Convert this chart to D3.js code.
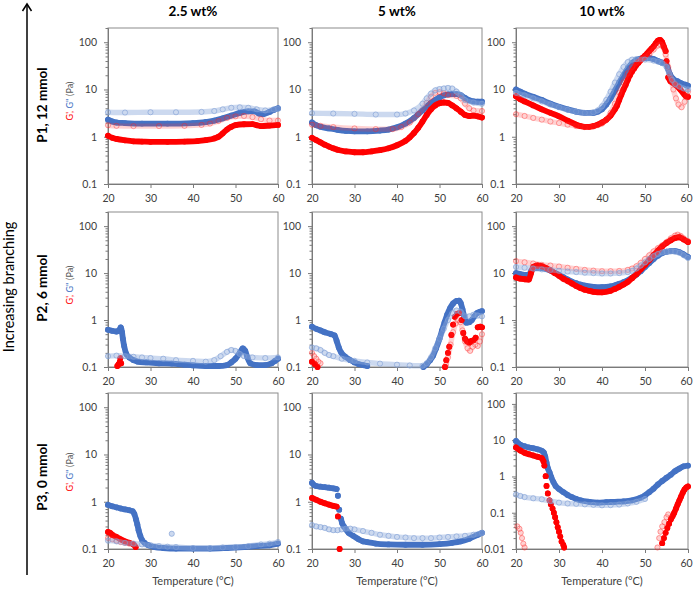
<!DOCTYPE html>
<html><head><meta charset="utf-8">
<script src="https://cdn.jsdelivr.net/npm/d3@7"></script>
<style>body{margin:0;background:#fff}text{font-family:Lato,"Open Sans",sans-serif}</style>
</head><body><svg id="c" width="693" height="589"></svg>
<script>
// ---------- categories / ticks ----------
const concentrations = ["2.5 wt%", "5 wt%", "10 wt%"];
const polymers = ["P1, 12 mmol", "P2, 6 mmol", "P3, 0 mmol"];
const temperatureTicks = [20, 30, 40, 50, 60];
const yTicksStd = [0.1, 1, 10, 100];
const yTicksWide = [0.01, 0.1, 1, 10, 100];
const xLabel = "Temperature (°C)";
const sideLabel = "Increasing branching";

// ---------- data: [temperature °C, modulus Pa]; null = gap ----------
// Row 1: P1, 12 mmol
const r1c1_Gp = [[20,1.05],[21,0.95],[22,0.9],[24,0.84],[26,0.8],[28,0.79],[30,0.78],[34,0.78],[38,0.79],[41,0.81],[43,0.85],[45,0.92],[46,1.0],[47,1.18],[48,1.42],[49,1.62],[50,1.76],[52,1.84],[54,1.85],[55,1.75],[56,1.68],[58,1.72],[60,1.78]];
const r1c1_Gpp = [[20,2.3],[21,2.1],[22,2.0],[24,1.95],[28,1.9],[34,1.9],[40,1.95],[43,2.05],[45,2.2],[47,2.45],[49,2.8],[51,3.2],[53,3.45],[54.5,3.45],[55.5,3.1],[56.5,3.0],[58,3.35],[59,3.7],[60,4.0]];
const r1c1_GpOpen = [[20,1.75],[22,1.7],[26,1.68],[32,1.68],[38,1.7],[42,1.78],[44,1.9],[46,2.15],[48,2.5],[50,2.7],[52,2.75],[54,2.6],[56,2.35],[58,2.2],[60,2.2]];
const r1c1_GppOpen = [[20,3.3],[24,3.25],[30,3.3],[36,3.3],[42,3.35],[45,3.5],[47,3.8],[49,4.1],[51,4.2],[53,4.1],[55,3.8],[57,3.6],[59,3.8],[60,3.9]];

const r1c2_Gp = [[20,0.95],[21,0.85],[22,0.76],[23,0.68],[24,0.62],[25,0.57],[26,0.53],[28,0.49],[30,0.47],[32,0.47],[34,0.49],[36,0.52],[38,0.57],[40,0.66],[42,0.82],[43,0.97],[44,1.2],[45,1.55],[46,2.1],[47,2.9],[48,3.8],[49,4.6],[50,5.1],[51,5.3],[52,5.2],[53,4.6],[54,4.0],[55,3.4],[56,2.9],[57,2.75],[58,2.8],[59,2.7],[60,2.55]];
const r1c2_Gpp = [[20,2.0],[21,1.75],[22,1.62],[24,1.5],[26,1.4],[28,1.33],[30,1.3],[33,1.3],[36,1.35],[38,1.42],[40,1.58],[42,1.9],[44,2.5],[46,3.6],[48,5.2],[50,6.8],[51,7.5],[52,7.9],[53,8.0],[54,8.0],[55,7.6],[56,6.6],[57,5.9],[58,5.6],[59,5.5],[60,5.5]];
const r1c2_GpOpen = [[20,1.8],[22,1.7],[25,1.6],[30,1.5],[35,1.45],[39,1.45],[41,1.6],[43,2.0],[45,3.0],[47,5.2],[48,7.0],[49,8.5],[50,8.8],[51,8.3],[52,7.6],[54,7.3],[55,6.5],[56,5.0],[57,4.0],[58,3.6],[60,3.5]];
const r1c2_GppOpen = [[20,3.15],[25,3.1],[30,3.05],[35,2.95],[40,2.95],[42,3.1],[44,3.6],[46,5.0],[47,6.5],[48,8.2],[49,9.6],[50,10.2],[51,10.5],[52,10.8],[53,10.5],[54,9.0],[55,7.5],[56,6.0],[58,5.3],[60,5.0]];

const r1c3_Gp = [[20,7.2],[21,6.2],[22,5.6],[24,4.6],[26,3.8],[28,3.2],[30,2.7],[32,2.2],[34,1.8],[35,1.68],[36,1.62],[37,1.62],[38,1.68],[39,1.8],[40,2.0],[41,2.3],[42,2.8],[43,3.8],[43.5,4.6],[44,6.0],[44.5,7.8],[45,10],[45.5,12.5],[46,16],[46.5,20],[47,24],[47.5,28],[48,33],[48.5,37],[49,42],[49.5,47],[50,52],[50.5,58],[51,65],[51.5,73],[52,82],[52.5,95],[53,108],[53.5,112],[54,100],[54.4,80],[54.8,65],null,[55.0,40],null,[55.4,18],[55.9,15],[57,12.8],[58.2,10],[59.5,7.2],[60,7]];
const r1c3_Gpp = [[20,10],[21,9],[22,8.2],[24,7],[26,6],[28,5],[30,4.3],[32,3.8],[34,3.4],[36,3.2],[38,3.2],[39,3.4],[40,3.8],[41,4.8],[42,6.5],[43,9.5],[44,14],[45,20],[46,28],[47,36],[48,42],[49,45],[50,46],[51,46],[52,44],[53,40],[54,37],[54.8,36],[55.3,28],[55.8,21],[56.5,17],[57.5,15],[58.5,13.5],[59.5,12.5],[60,12]];
const r1c3_GpOpen = [[20,3.0],[22,2.75],[24,2.5],[26,2.3],[28,2.1],[30,1.95],[32,1.8],[34,1.68],[36,1.6],[38,1.65],[40,1.9],[41,2.3],[42,3.2],[43,5],[44,8.5],[45,14],[46,22],[47,30],[48,37],[49,42],[50,48],[51,56],[52,70],[53,85],[53.6,90],[54.2,80],[54.8,55],[55.4,30],[56,17],[56.6,10],[57.2,6.5],[57.8,4.8],[58.5,4.2],[59.2,5.5],[60,9]];
const r1c3_GppOpen = [[20,8.5],[22,7.5],[24,6.5],[26,5.6],[28,4.8],[30,4.2],[32,3.7],[34,3.4],[36,3.2],[38,3.3],[39,3.6],[40,4.4],[41,6],[42,9],[43,14],[44,21],[45,30],[46,38],[47,43],[48,44],[50,43],[52,41],[53,39],[54,36],[55,30],[55.6,22],[56.3,16],[57,13],[58,11.5],[59,10.5],[60,10]];

// Row 2: P2, 6 mmol
const r2c1_Gp = [[22.2,0.105],null,[22.5,0.115],null,[22.8,0.13],null,[22.9,0.155],null,[23.1,0.12]];
const r2c1_Gpp = [[20,0.62],[21,0.59],[22,0.57],[22.6,0.6],[23,0.7],[23.3,0.55],[23.5,0.4],[23.8,0.28],[24.3,0.19],[25,0.16],[26,0.14],[27,0.13],[29,0.125],[32,0.12],[35,0.118],[38,0.112],[40,0.108],[43,0.105],[46,0.105],[48,0.11],[49,0.125],[50,0.15],[51,0.2],[51.7,0.25],[52.3,0.22],[52.8,0.16],[53.5,0.12],[55,0.11],[57,0.11],[58.5,0.12],[59.3,0.135],[60,0.15]];
const r2c1_GpOpen = [];
const r2c1_GppOpen = [[20,0.17],[22,0.175],[24,0.17],[26,0.165],[28,0.16],[30,0.155],[33,0.15],[36,0.14],[40,0.135],[43,0.13],[45,0.14],[46.5,0.17],[48,0.21],[49,0.23],[50,0.22],[51,0.19],[52,0.17],[54,0.16],[57,0.155],[60,0.16]];

const r2c2_Gp = [[20,0.13],null,[20.7,0.115],null,[21.3,0.1],null,[51.3,0.1],null,[51.6,0.14],null,[52,0.2],null,[52.3,0.27],null,[52.8,0.48],null,[53.2,0.8],null,[53.6,1.17],null,[54.1,1.35],[54.6,1.4],null,[55.2,1.0],null,[55.6,0.53],null,[56,0.4],[56.5,0.35],[57,0.33],[57.5,0.36],[58,0.37],[58.5,0.42],null,[59,0.7],[59.6,0.72],[60,0.7]];
const r2c2_Gpp = [[20,0.72],[21,0.65],[22,0.6],[23,0.55],[24.5,0.5],[25.3,0.47],[25.8,0.36],[26.3,0.26],[26.9,0.2],[27.8,0.166],[29,0.14],[30,0.125],[31,0.115],[32,0.11],[33,0.105],null,[46.2,0.1],[47,0.115],[47.8,0.14],[48.5,0.175],[49.2,0.25],[50,0.4],[50.6,0.6],[51.2,0.9],[51.8,1.3],[52.5,1.8],[53.2,2.25],[54,2.55],[54.6,2.6],[55,2.3],[55.4,1.7],[55.8,1.2],[56.3,0.88],[57,0.9],[57.6,1.0],[58.2,1.2],[58.8,1.4],[59.5,1.5],[60,1.55]];
const r2c2_GpOpen = [[20,0.2],[20.5,0.17],[21,0.15],[21.5,0.13],[22,0.12],null,[51.5,0.11],[52,0.16],[52.6,0.3],[53.2,0.55],[53.8,0.85],[54.3,1.0],[54.9,0.9],[55.4,0.6],[56,0.35],[56.6,0.25],[57.2,0.22],[57.8,0.27],[58.4,0.3],[59,0.28],[59.5,0.35],[60,0.5]];
const r2c2_GppOpen = [[20,0.26],[21,0.25],[22,0.23],[23,0.2],[24,0.18],[25,0.17],[27,0.15],[30,0.135],[33,0.125],[36,0.118],[40,0.112],[43,0.108],[46,0.106],[47,0.12],[48,0.16],[49,0.25],[50,0.4],[51,0.65],[52,1.0],[53,1.4],[54,1.6],[55,1.5],[56,1.2],[57,1.2],[58,1.3],[59,1.25],[60,1.2]];

const r2c3_Gp = [[20,8.1],[21,7.6],[22,7.4],[23,7.3],[23.5,10],[24,13.5],[25,14.5],[26,14],[27,12.8],[28,11.5],[29,10],[30,8.8],[31,7.6],[32,6.8],[33,6],[34,5.3],[35,4.8],[36,4.4],[37,4.2],[38,4.0],[40,3.9],[42,4.2],[43,4.6],[44,5.1],[45,5.7],[46,6.5],[47,7.8],[48,9.5],[49,12],[50,15],[51,19],[52,24],[53,30],[54,37],[55,44],[56,50],[57,56],[58,58],[59,52],[60,46]];
const r2c3_Gpp = [[20,10],[21,9.5],[22,9.2],[23,9.2],[23.5,11],[24,12.5],[25,13],[26,12.8],[27,12.2],[28,11.3],[29,10.2],[30,9.2],[31,8.2],[32,7.3],[33,6.6],[34,6.1],[35,5.7],[36,5.4],[38,5.1],[40,5.0],[42,5.2],[43,5.5],[44,5.9],[45,6.4],[46,7.0],[47,8.0],[48,9.3],[49,11],[50,13.5],[51,16.5],[52,20],[53,23.5],[54,26.5],[55,28.5],[56,29.5],[57,29.5],[58,28],[59,25],[60,22]];
const r2c3_GpOpen = [[20,18],[22,17],[24,16],[26,15],[28,14.5],[30,13.8],[32,13],[34,12.3],[36,11.7],[38,11.3],[40,11],[42,11],[44,11.1],[46,11.7],[47,12.5],[48,14],[49,16.5],[50,20],[51,24],[52,29],[53,34],[54,39],[55,46],[56,55],[57,63],[57.6,66],[58.3,62],[59,55],[60,48]];
const r2c3_GppOpen = [[20,13.5],[22,13],[24,12.5],[26,12],[28,11.7],[30,11.2],[32,10.8],[34,10.5],[36,10.2],[38,10],[40,9.8],[42,9.8],[44,10],[46,10.5],[47,11.2],[48,12.5],[49,14.5],[50,17],[51,20],[52,23],[53,25.5],[54,27.5],[55,28.5],[56,29],[57,28.5],[58,27],[59,24],[60,21]];

// Row 3: P3, 0 mmol
const r3c1_Gp = [[20,0.23],[20.5,0.22],[21,0.2],[22,0.18],[23,0.16],[24,0.145],[25,0.135],[26,0.125],[26.5,0.11]];
const r3c1_Gpp = [[20,0.86],[21,0.8],[22,0.76],[23,0.72],[24,0.69],[25,0.66],[25.8,0.63],[26.2,0.55],[26.6,0.42],[26.9,0.33],[27.2,0.25],[27.6,0.19],[28,0.155],[28.6,0.135],[29.5,0.12],[31,0.11],[33,0.105],[36,0.102],[40,0.102],[44,0.102],[48,0.105],[52,0.11],[55,0.115],[58,0.12],[60,0.13]];
const r3c1_GpOpen = [[20,0.17],[21,0.16],[22,0.15],[23,0.14],[24,0.135],[25,0.13],[26,0.125]];
const r3c1_GppOpen = [[20,0.15],[22,0.145],[24,0.135],[26,0.13],[28,0.125],[30,0.12],[32,0.115],[34,0.112],[36,0.11],[40,0.105],[44,0.105],[47,0.108],[50,0.11],[53,0.115],[56,0.125],[58,0.13],[60,0.14],null,[35,0.21]];

const r3c2_Gp = [[20,1.2],[21,1.1],[22,1.0],[23,0.93],[24,0.87],[25,0.82],[25.8,0.79],null,[26.1,0.49],null,[26.5,0.1]];
const r3c2_Gpp = [[20,2.5],[20.5,2.25],[21,2.15],[22,2.08],[23,2.03],[24,1.98],[25,1.92],[25.8,1.85],null,[26.1,1.34],null,[26.4,0.68],null,[26.8,0.44],[27.1,0.35],[27.5,0.3],[28,0.26],[28.6,0.22],[29.7,0.19],[31,0.16],[32,0.145],[33,0.14],[35,0.13],[38,0.125],[42,0.123],[46,0.123],[50,0.127],[53,0.135],[55,0.145],[57,0.165],[59,0.2],[60,0.22]];
const r3c2_GpOpen = [];
const r3c2_GppOpen = [[20,0.32],[21,0.3],[22,0.29],[23,0.28],[24,0.26],[25,0.25],[26,0.25],[27,0.26],[28,0.27],[29,0.27],[30,0.26],[32,0.24],[34,0.22],[36,0.2],[38,0.19],[40,0.18],[42,0.175],[44,0.17],[46,0.17],[48,0.17],[50,0.175],[52,0.18],[54,0.185],[56,0.19],[58,0.2],[60,0.22]];

const r3c3_Gp = [[20,6.3],[21,5.2],[22,4.5],[23,4.1],[24,3.8],[25,3.5],[26,3.2],[26.4,2.6],null,[26.6,2.0],null,[26.9,1.02],null,[27.1,0.55],null,[27.4,0.34],null,[27.8,0.22],null,[28.1,0.17],null,[28.5,0.13],null,[28.8,0.1],null,[29.1,0.075],null,[29.4,0.055],null,[29.7,0.04],null,[30.0,0.03],null,[30.3,0.022],null,[30.6,0.016],null,[31,0.013],null,[31.2,0.011],null,[54,0.0145],null,[54.4,0.02],null,[54.8,0.028],null,[55.2,0.038],null,[55.6,0.05],null,[56,0.065],[56.4,0.08],[56.8,0.1],[57.2,0.13],[57.6,0.17],[58,0.22],[58.4,0.28],[58.8,0.36],[59.2,0.44],[59.6,0.5],[60,0.53]];
const r3c3_Gpp = [[20,9.5],[20.5,8.3],[21,7.5],[22,6.8],[23,6.3],[24,6],[25,5.6],[26,5.1],[26.5,4.5],[26.8,3.5],[27.1,2.4],[27.4,1.7],[27.8,1.3],[28.2,0.95],[28.7,0.7],[29.2,0.55],[30,0.45],[31,0.37],[32,0.31],[33,0.27],[34,0.24],[35,0.22],[37,0.2],[39,0.19],[41,0.195],[43,0.2],[45,0.205],[47,0.22],[49,0.26],[50,0.3],[51,0.37],[52,0.46],[53,0.6],[54,0.75],[55,0.92],[56,1.12],[57,1.4],[58,1.65],[59,1.9],[60,2.0]];
const r3c3_GpOpen = [[20.3,0.042],null,[20.8,0.036],null,[21.1,0.028],null,[21.4,0.02],null,[21.7,0.014],null,[22,0.011],null,[52.9,0.011],null,[53.3,0.02],null,[53.6,0.03],null,[54,0.042],null,[54.5,0.055],null,[55,0.075],null,[55.4,0.09]];
const r3c3_GppOpen = [[20,0.32],[21,0.29],[22,0.27],[24,0.25],[26,0.235],[28,0.21],[30,0.19],[32,0.18],[34,0.175],[36,0.17],[38,0.165],[40,0.16],[42,0.162],[44,0.168],[46,0.18],[48,0.2],[50,0.24]];

const panelData = [
  [[r1c1_Gp,r1c1_Gpp,r1c1_GpOpen,r1c1_GppOpen],[r1c2_Gp,r1c2_Gpp,r1c2_GpOpen,r1c2_GppOpen],[r1c3_Gp,r1c3_Gpp,r1c3_GpOpen,r1c3_GppOpen]],
  [[r2c1_Gp,r2c1_Gpp,r2c1_GpOpen,r2c1_GppOpen],[r2c2_Gp,r2c2_Gpp,r2c2_GpOpen,r2c2_GppOpen],[r2c3_Gp,r2c3_Gpp,r2c3_GpOpen,r2c3_GppOpen]],
  [[r3c1_Gp,r3c1_Gpp,r3c1_GpOpen,r3c1_GppOpen],[r3c2_Gp,r3c2_Gpp,r3c2_GpOpen,r3c2_GppOpen],[r3c3_Gp,r3c3_Gpp,r3c3_GpOpen,r3c3_GppOpen]]
];
const yMinByPanel = [[0.1,0.1,0.1],[0.1,0.1,0.1],[0.1,0.1,0.01]];

// ---------- layout ----------
const colX = [[108,278],[312,482],[516,688]];
const rowY = [[28,184],[212,367],[393,549]];
const RED = "#ff0000", BLUE = "#4472c4";
const styles = [
  {band:RED, bandOp:1, w:5.8, r:2.9, fill:RED, stroke:"none", sOp:1},          // G' filled
  {band:BLUE, bandOp:1, w:5.8, r:2.9, fill:BLUE, stroke:"none", sOp:1},        // G'' filled
  {band:"#ff3333", bandOp:0.22, w:5.4, r:2.6, fill:"none", stroke:"#ff2020", sOp:0.38}, // G' open
  {band:"#8eaadb", bandOp:0.45, w:5.4, r:2.6, fill:"none", stroke:"#7f9ed6", sOp:0.6} // G'' open
];
const drawOrder = [1,0,2,3];

const svg = d3.select("#c");
svg.append("rect").attr("width",693).attr("height",589).attr("fill","#fff");

function drawPanel(r,c){
  const [x0,x1] = colX[c], [y0,y1] = rowY[r];
  const yMin = yMinByPanel[r][c];
  const x = d3.scaleLinear().domain([20,60]).range([x0,x1]);
  const y = d3.scaleLog().domain([yMin,200]).range([y1,y0]);
  const g = svg.append("g");
  g.append("rect").attr("x",x0).attr("y",y0).attr("width",x1-x0).attr("height",y1-y0)
    .attr("fill","none").attr("stroke","#8c8c8c").attr("stroke-width",1);
  const majors = yMin < 0.05 ? yTicksWide : yTicksStd;
  const minors = [];
  for (let e = Math.round(Math.log10(yMin)); e < 2.4; e++){
    for (let k = 2; k <= 9; k++){ const v = k*Math.pow(10,e); if (v <= 200) minors.push(v); }
  }
  const yMinorAxis = d3.axisLeft(y).tickValues(minors).tickSize(2.5).tickSizeOuter(0).tickFormat("");
  const yAxis = d3.axisLeft(y).tickValues(majors).tickSize(4).tickSizeOuter(0).tickPadding(7)
    .tickFormat(d => d3.format("~g")(d));
  const ga = g.append("g").attr("transform",`translate(${x0},0)`).call(yMinorAxis);
  const gb = g.append("g").attr("transform",`translate(${x0},0)`).call(yAxis);
  const xAxis = d3.axisBottom(x).tickValues(temperatureTicks).tickSize(4).tickSizeOuter(0).tickPadding(7);
  const gx = g.append("g").attr("transform",`translate(0,${y1})`).call(xAxis);
  [ga,gb,gx].forEach(a=>{
    a.selectAll("path,line").attr("stroke","#7a7a7a");
    a.selectAll("text").attr("fill","#404040").style("font-size","10.5px").style("font-family","Lato, sans-serif");
  });
  if (c === 2) gx.selectAll(".tick text").filter(d => d === 60).attr("dx", "-2px");

  const line = d3.line().defined(d => d !== null).x(d => x(d[0])).y(d => y(d[1])).curve(d3.curveMonotoneX);
  drawOrder.forEach(si => {
    const data = panelData[r][c][si];
    if (!data.length) return;
    const st = styles[si];
    g.append("path").datum(data).attr("d", line).attr("fill","none")
      .attr("stroke", st.band).attr("stroke-opacity", st.bandOp).attr("stroke-width", st.w)
      .attr("stroke-linecap","round").attr("stroke-linejoin","round");
    g.append("g").selectAll("circle").data(data.filter(d => d !== null)).join("circle")
      .attr("cx", d => x(d[0])).attr("cy", d => y(d[1])).attr("r", st.r)
      .attr("fill", st.fill).attr("stroke", st.stroke).attr("stroke-opacity", st.sOp).attr("stroke-width", 1);
  });
}
for (let r=0;r<3;r++) for (let c=0;c<3;c++) drawPanel(r,c);

// column titles
concentrations.forEach((t,c) => {
  svg.append("text").attr("x",(colX[c][0]+colX[c][1])/2).attr("y",16).attr("text-anchor","middle")
    .style("font-size","13.5px").style("font-weight","bold").attr("fill","#000").text(t);
  svg.append("text").attr("x",(colX[c][0]+colX[c][1])/2).attr("y",585).attr("text-anchor","middle")
    .style("font-size","11px").attr("fill","#404040").text(xLabel);
});

// row labels
const rowLabelY = [105,288,477], unitLabelY = [101,285,472];
polymers.forEach((t,r) => {
  svg.append("text").attr("transform",`translate(47,${rowLabelY[r]}) rotate(-90)`).attr("text-anchor","middle")
    .style("font-size","13.5px").style("font-weight","bold").attr("fill","#000").text(t);
  const u = svg.append("text").attr("transform",`translate(73,${unitLabelY[r]}) rotate(-90)`).attr("text-anchor","middle")
    .style("font-size","9px");
  u.append("tspan").attr("fill",RED).text("G',");
  u.append("tspan").attr("fill",BLUE).text(" G''");
  u.append("tspan").attr("fill","#595959").text(" (Pa)");
});

// side arrow + label
svg.append("line").attr("x1",27).attr("x2",27).attr("y1",575).attr("y2",4).attr("stroke","#000").attr("stroke-width",1.5);
svg.append("path").attr("d","M22.5,11 L27,4 L31.5,11").attr("fill","none").attr("stroke","#000").attr("stroke-width",1.5);
svg.append("text").attr("transform","translate(14,287) rotate(-90)").attr("text-anchor","middle")
  .style("font-size","14.5px").attr("fill","#000").text(sideLabel);
</script></body></html>
